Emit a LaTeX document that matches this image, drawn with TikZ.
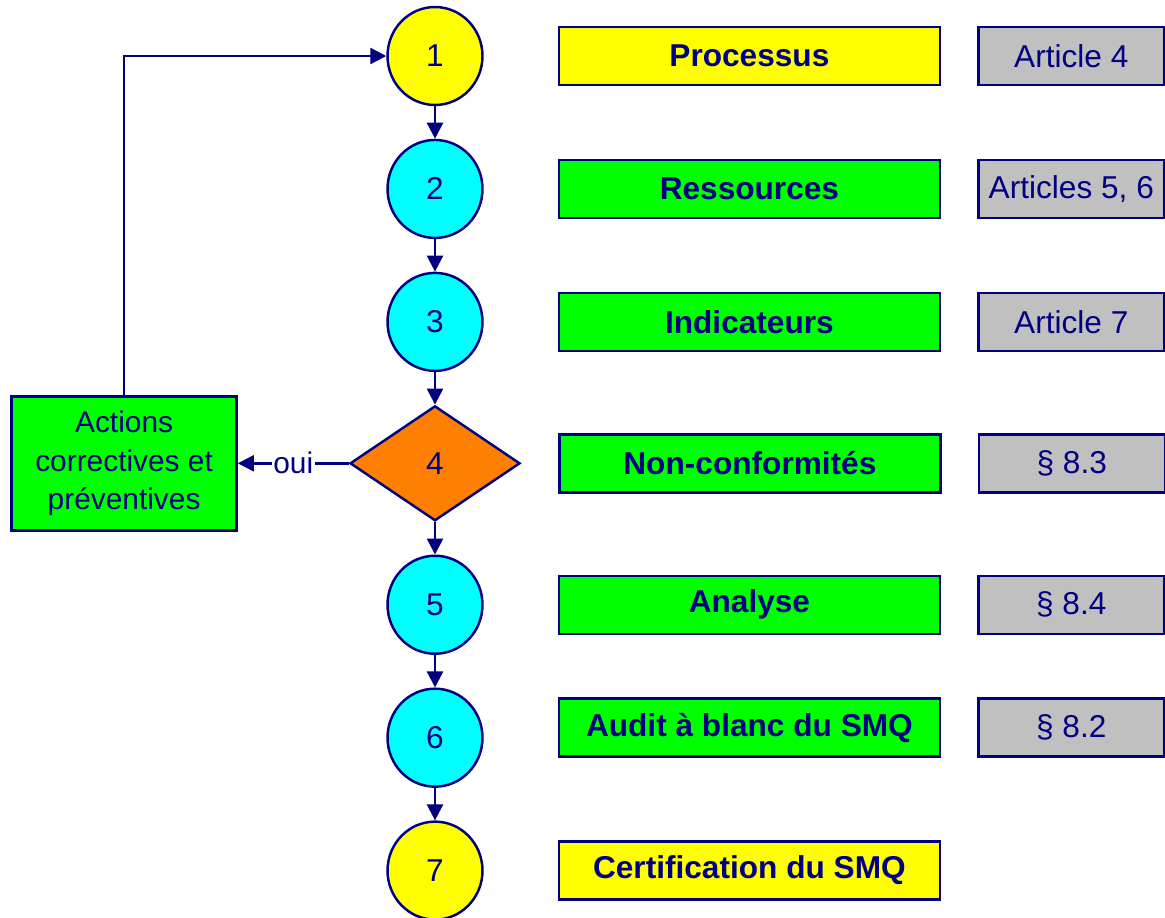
\documentclass[tikz,border=0pt]{standalone}
\usepackage{fontspec}
\setmainfont{Liberation Sans}
\usetikzlibrary{positioning,shapes.geometric,arrows.meta}

\definecolor{navy}{RGB}{0,0,128}
\definecolor{jaune}{RGB}{255,255,0}
\definecolor{bleu}{RGB}{0,255,255}
\definecolor{vert}{RGB}{0,255,0}
\definecolor{orange}{RGB}{255,128,0}
\definecolor{gris}{RGB}{192,192,192}

\begin{document}
\begin{tikzpicture}[x=0.02cm, y=-0.02cm, node distance=0.65cm,
    every node/.style={text=navy, font=\fontsize{18}{22}\selectfont},
    etape/.style={ellipse, draw=navy, line width=1.4pt, minimum width=1.9cm, minimum height=1.96cm, inner sep=0pt},
    test/.style={diamond, draw=navy, line width=1.4pt, fill=orange, minimum width=3.4cm, minimum height=2.3cm, inner sep=0pt},
    tache/.style={rectangle, draw=navy, line width=1.4pt, minimum width=7.62cm, minimum height=1.16cm, font=\bfseries\fontsize{18}{22}\selectfont},
    article/.style={rectangle, draw=navy, line width=1.4pt, fill=gris, minimum width=3.72cm, minimum height=1.16cm},
    fleche/.style={draw=navy, line width=1.4pt, -{Triangle[length=0.32cm, width=0.32cm]}}]
    \useasboundingbox (0,0) rectangle (1165,917);

    % etapes
    \node [etape, fill=jaune] (e1) at (435,56) {1};
    \node [etape, fill=bleu, below=of e1] (e2) {2};
    \node [etape, fill=bleu, below=of e2] (e3) {3};
    \node [test, below=of e3] (e4) {4};
    \node [etape, fill=bleu, below=of e4] (e5) {5};
    \node [etape, fill=bleu, below=of e5] (e6) {6};
    \node [etape, fill=jaune, below=of e6] (e7) {7};

    % taches
    \node [tache, fill=jaune, right=1.48cm of e1] (t1) {Processus};
    \node [tache, fill=vert, right=1.48cm of e2] (t2) {Ressources};
    \node [tache, fill=vert, right=1.48cm of e3] (t3) {Indicateurs};
    \node [tache, fill=vert, right=0.74cm of e4] (t4) {Non-conformités};
    \node [tache, fill=vert, right=1.48cm of e5] (t5) {Analyse};
    \node [tache, fill=vert, right=1.48cm of e6, yshift=0.2cm] (t6) {Audit à blanc du SMQ};
    \node [tache, fill=jaune, right=1.48cm of e7] (t7) {Certification du SMQ};

    % articles
    \node [article, right=0.72cm of t1] (a1) {Article 4};
    \node [article, right=0.72cm of t2] (a2) {Articles 5, 6};
    \node [article, right=0.72cm of t3] (a3) {Article 7};
    \node [article, right=0.72cm of t4] (a4) {§ 8.3};
    \node [article, right=0.72cm of t5] (a5) {§ 8.4};
    \node [article, right=0.72cm of t6] (a6) {§ 8.2};

    \node [rectangle, draw=navy, line width=1.4pt, fill=vert, minimum width=4.5cm, minimum height=2.68cm, align=center, font=\fontsize{17}{22}\selectfont, left=2.22cm of e4] (act) {Actions\\correctives et\\préventives};

    \draw [fleche] (e1) -- (e2);
    \draw [fleche] (e2) -- (e3);
    \draw [fleche] (e3) -- (e4);
    \draw [fleche] (e4) -- (e5);
    \draw [fleche] (e5) -- (e6);
    \draw [fleche] (e6) -- (e7);
    \draw [fleche] (e4) -- node [fill=white, inner sep=1pt, font=\fontsize{17}{20}\selectfont] {oui} (act);
    \draw [fleche] (act.north) |- (e1.west);
\end{tikzpicture}
\end{document}
